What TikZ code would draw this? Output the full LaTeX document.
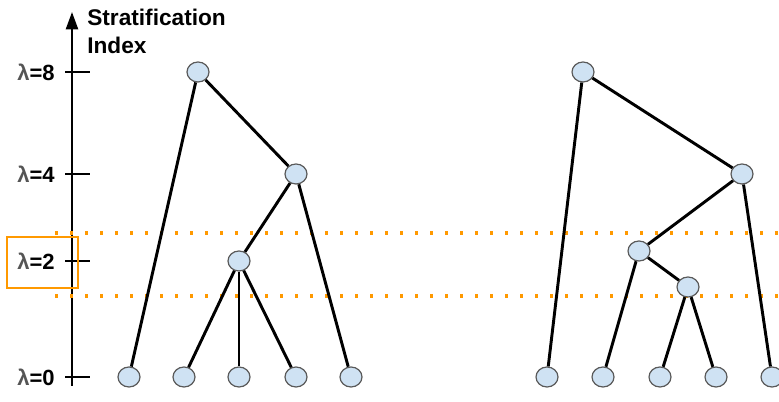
\documentclass[tikz,border=0pt]{standalone}
\usepackage{fontspec}
\setmainfont{Liberation Sans}
\usepackage{tikz}
\usetikzlibrary{shapes.geometric, positioning, arrows.meta}
\definecolor{vertexblue}{RGB}{207, 226, 243}
\definecolor{bandorange}{RGB}{255, 153, 0}
\definecolor{lamgray}{RGB}{85, 85, 85}

\begin{document}
\begin{tikzpicture}[
        x=0.75pt, y=-0.75pt,
        >={Triangle[length=13pt, width=9pt]},
        % Tree vertices
        vertex/.style={
            ellipse,
            draw=black!65,
            fill=vertexblue,
            line width=0.9pt,
            minimum width=16.5pt,
            minimum height=15pt,
            inner sep=0pt
        },
        % Tree edges
        branch/.style={line width=2.2pt},
        % Axis labels
        level/.style={
            font=\bfseries\fontsize{16.5}{19}\selectfont,
            anchor=east,
            inner sep=0pt
        },
        % Dotted band boundaries
        band/.style={
            bandorange,
            line width=2.4pt,
            dash pattern=on 2.4pt off 8.85pt
        }
    ]

    \clip (0,0) rectangle (779,402);

    % 1. Draw Stratification Axis
    \coordinate (axbot) at (72,386);
    \coordinate (axtop) at (72,12);
    \draw[->, line width=1.8pt] (axbot) -- (axtop);
    \node[font=\bfseries\fontsize{17}{20.5}\selectfont, anchor=north west,
          align=left, inner sep=0pt] (title) at (87,9) {Stratification\\Index};

    \foreach \lam/\yy in {8/72, 4/174, 2/261, 0/377} {
        \coordinate (tickL\lam) at (65,\yy);
        \coordinate (tickR\lam) at (90,\yy);
        \draw[line width=1.8pt] (tickL\lam) -- (tickR\lam);
        \node[level] (lab\lam) at (55,\yy) {\textcolor{lamgray}{λ}=\lam};
    }

    % 2. Draw Highlighted Band
    \draw[bandorange, line width=2pt] (7,237) rectangle (78,288);
    \coordinate (bandAl) at (55,233);
    \coordinate (bandAr) at (779,233);
    \coordinate (bandBl) at (55,296);
    \coordinate (bandBr) at (779,296);
    \draw[band] (bandAl) -- (bandAr);
    \draw[band] (bandBl) -- (bandBr);

    % 3. Draw Left Tree
    \node[vertex] (a8) at (198,72) {};
    \node[vertex] (a4) at (296,174) {};
    \node[vertex] (a2) at (239,261) {};
    \foreach \i/\xx in {1/129, 2/184, 3/239, 4/296, 5/351} {
        \node[vertex] (aleaf\i) at (\xx,377) {};
    }
    \draw[branch] (a8) -- (aleaf1);
    \draw[branch] (a8) -- (a4);
    \draw[branch] (a4) -- (a2);
    \draw[branch] (a4) -- (aleaf5);
    \foreach \i in {2,3,4} {
        \draw[branch] (a2) -- (aleaf\i);
    }

    % 4. Draw Right Tree
    \node[vertex] (b8) at (583,72) {};
    \node[vertex] (b4) at (742,174) {};
    \node[vertex] (b3) at (639,251) {};
    \node[vertex] (b1) at (688,287) {};
    \foreach \i/\xx in {1/547, 2/603, 3/660, 4/716, 5/772} {
        \node[vertex] (bleaf\i) at (\xx,377) {};
    }
    \draw[branch] (b8) -- (bleaf1);
    \draw[branch] (b8) -- (b4);
    \draw[branch] (b4) -- (b3);
    \draw[branch] (b4) -- (bleaf5);
    \draw[branch] (b3) -- (bleaf2);
    \draw[branch] (b3) -- (b1);
    \draw[branch] (b1) -- (bleaf3);
    \draw[branch] (b1) -- (bleaf4);

\end{tikzpicture}
\end{document}
